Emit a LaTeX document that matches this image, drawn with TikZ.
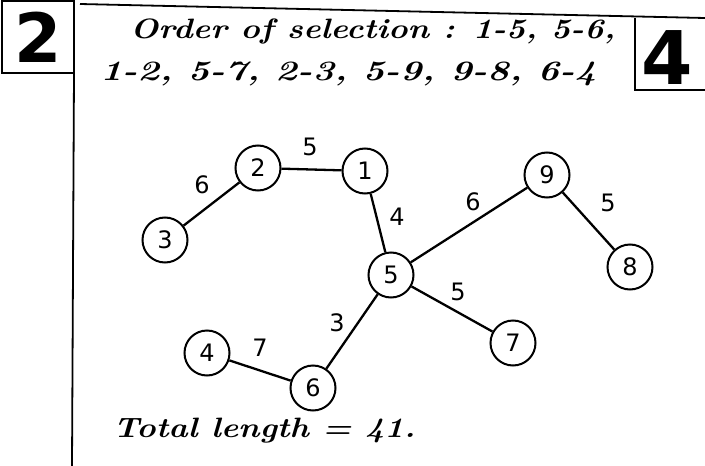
\documentclass[tikz,border=0pt]{standalone}
\usepackage{fontspec}
\setsansfont{DejaVu Sans}
\begin{document}
\begin{tikzpicture}[x=1pt,y=-1pt,
    every node/.style={font=\sffamily\fontsize{24}{24}\selectfont},
    vertex/.style={draw,circle,line width=2pt,minimum size=45pt,inner sep=0pt},
    edge/.style={line width=2.3pt},
    hand/.style={font=\bfseries\itshape\fontsize{28}{28}\selectfont,anchor=base west,inner sep=0pt},
    bignum/.style={font=\sffamily\bfseries\fontsize{68}{68}\selectfont,inner sep=0pt}]
  \useasboundingbox (0,0) rectangle (705,466);

  % page frame
  \draw[line width=1.8pt] (2,1) rectangle (74,73);
  \draw[line width=1.8pt] (74,73) -- (72,466);
  \draw[line width=1.8pt] (80,4) -- (705,18);
  \draw[line width=1.8pt] (635,18) -- (635,90) -- (705,90);
  \node[bignum] (numtwo) at (38,37) {2};
  \node[bignum,font=\sffamily\bfseries\fontsize{74}{74}\selectfont] (numfour) at (667,58) {4};

  % order of selection
  \node[hand,xscale=1.18] (order) at (130,38) {Order of selection : 1-5, 5-6,};
  \node[hand,xscale=1.32] (sequence) at (100,80) {1-2, 5-7, 2-3, 5-9, 9-8, 6-4};

  % spanning tree
  \node[vertex] (v1) at (365,171) {1};
  \node[vertex] (v2) at (258,168) {2};
  \node[vertex] (v3) at (165,240) {3};
  \node[vertex] (v4) at (207,353) {4};
  \node[vertex] (v5) at (391,275) {5};
  \node[vertex] (v6) at (313,388) {6};
  \node[vertex] (v7) at (513,343) {7};
  \node[vertex] (v8) at (630,267) {8};
  \node[vertex] (v9) at (547,175) {9};
  \foreach \a/\b in {1/5,5/6,1/2,5/7,2/3,5/9,9/8,6/4} {
    \draw[edge] (v\a) -- (v\b);
  }
  \foreach \n/\x/\y/\w in {w12/310/147/5, w23/202/185/6, w15/397/217/4,
                           w59/473/202/6, w98/608/203/5, w57/458/292/5,
                           w56/337/323/3, w46/260/348/7} {
    \node (\n) at (\x,\y) {\w};
  }

  \node[hand,xscale=1.17] (total) at (113,437) {Total length = 41.};
\end{tikzpicture}
\end{document}
